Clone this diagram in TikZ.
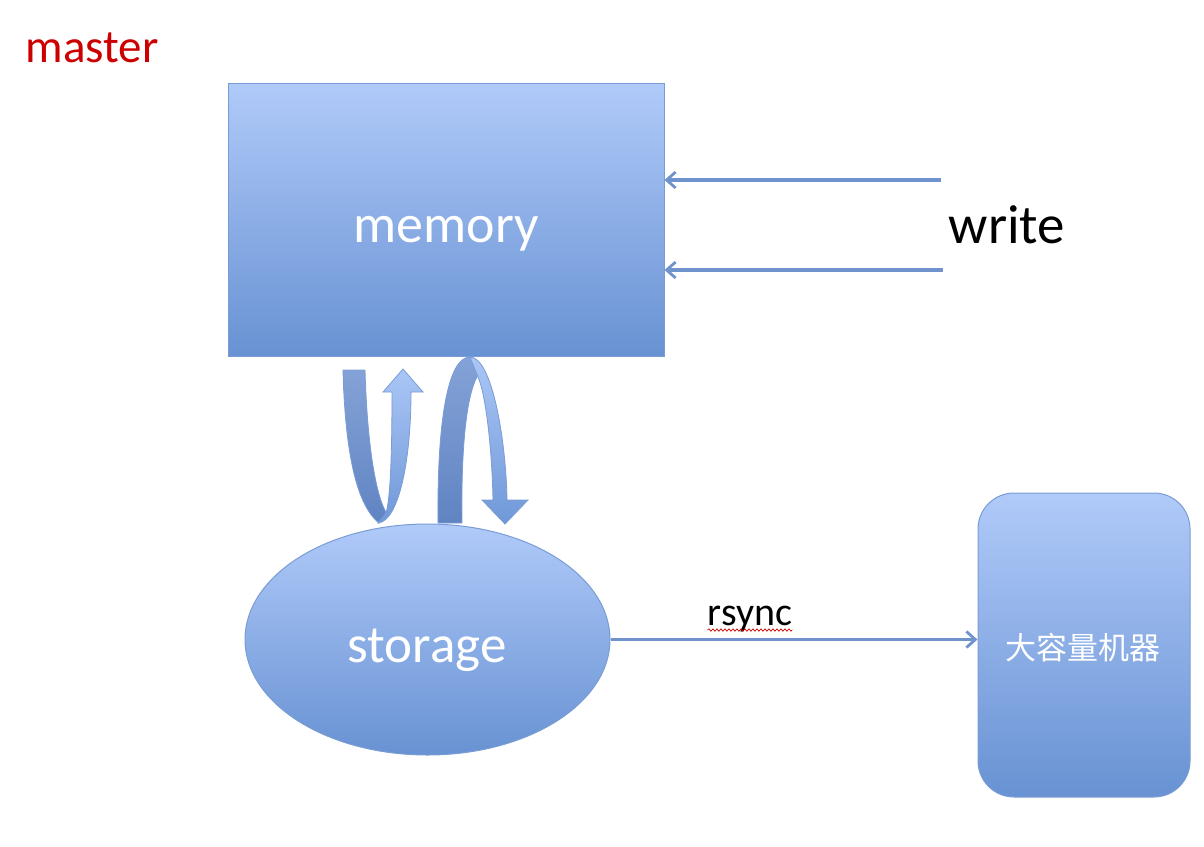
\documentclass[tikz,border=0pt]{standalone}
\usepackage{fontspec}
\setmainfont{Carlito}
\newfontfamily\cjk{Noto Sans CJK SC}
\usetikzlibrary{shapes.geometric,arrows.meta,decorations.pathmorphing}
\definecolor{boxtop}{RGB}{176,202,249}
\definecolor{boxbot}{RGB}{104,146,211}
\definecolor{boxedge}{RGB}{122,156,212}
\definecolor{linecol}{RGB}{112,147,206}
\definecolor{armdarktop}{RGB}{132,162,215}
\definecolor{armdarkbot}{RGB}{96,132,194}
\definecolor{armlighttop}{RGB}{170,198,246}
\definecolor{armlightbot}{RGB}{112,152,216}
\definecolor{mastered}{RGB}{204,0,0}
\tikzset{
  shapefill/.style={top color=boxtop, bottom color=boxbot, draw=boxedge, line width=1pt},
  conn/.style={draw=linecol, line width=3.2pt, -{Straight Barb[length=9pt,width=16pt,line width=2.8pt]}},
  whitetext/.style={text=white, inner sep=0pt},
  darkarm/.style={top color=armdarktop, bottom color=armdarkbot, draw=boxedge, line width=0.8pt},
  lightarm/.style={top color=armlighttop, bottom color=armlightbot, draw=boxedge, line width=0.8pt},
}
\begin{document}
\begin{tikzpicture}[x=1pt,y=-1pt]
\useasboundingbox (0,0) rectangle (1204,846);
% master
\node[text=mastered, inner sep=0pt, anchor=base, font=\fontsize{47}{50}\selectfont] (master) at (92,62) {master};
% memory box
\node[shapefill, rectangle, minimum width=436pt, minimum height=273pt, inner sep=0pt] (mem) at (446,219.5) {};
\node[whitetext, anchor=base, font=\fontsize{54}{58}\selectfont] (memtxt) at (446,242) {memory};
% write arrows
\coordinate (w1) at (941,180);
\coordinate (w2) at (943,270);
\draw[conn] (w1) -- (w1 -| mem.east);
\draw[conn] (w2) -- (w2 -| mem.east);
\node[inner sep=0pt, anchor=base, font=\fontsize{55}{58}\selectfont] (write) at (1007,243) {write};
% storage ellipse
\node[shapefill, ellipse, minimum width=365pt, minimum height=231pt, inner sep=0pt] (sto) at (427.5,639.5) {};
\node[whitetext, anchor=base, font=\fontsize{53}{56}\selectfont] (stotxt) at (427,662) {storage};
% big machine
\node[shapefill, rectangle, rounded corners=36pt, minimum width=212pt, minimum height=304pt, inner sep=0pt] (big) at (1084,645) {};
\node[whitetext, font=\cjk\fontsize{31}{34}\selectfont] (bigtxt) at (1083,648) {大容量机器};
% rsync
\draw[conn] (sto.east) -- (sto.east -| big.west);
\node[inner sep=0pt, anchor=base, font=\fontsize{40}{44}\selectfont] (rsync) at (750,625) {rsync};
\draw[red!80!black, line width=0.7pt, decorate, decoration={snake, amplitude=1.2pt, segment length=4pt}] (rsync.base west) ++(0,5) coordinate (wl) -- (wl -| rsync.base east);
% left U arrow (up)
\draw[darkarm] (343,370) -- (365,370) .. controls (367,440) and (375,495) .. (387,514) -- (379,523) .. controls (356,505) and (345,450) .. (343,370) -- cycle;
\draw[lightarm] (378,523) .. controls (399,521) and (411,460) .. (411,392) -- (423,392) -- (403,369) -- (383,392) -- (392,392) .. controls (392,460) and (390,500) .. (386,513) -- cycle;
% right U arrow (down)
\draw[darkarm] (438,523) .. controls (437,420) and (448,357) .. (470,357) -- (478,375) .. controls (466,395) and (461,450) .. (462,523) -- cycle;
\draw[lightarm] (470,357) .. controls (492,357) and (506,440) .. (507,500) -- (528,500) -- (505,524) -- (482,500) -- (493,500) .. controls (492,450) and (486,395) .. (478,377) -- cycle;
\end{tikzpicture}
\end{document}
